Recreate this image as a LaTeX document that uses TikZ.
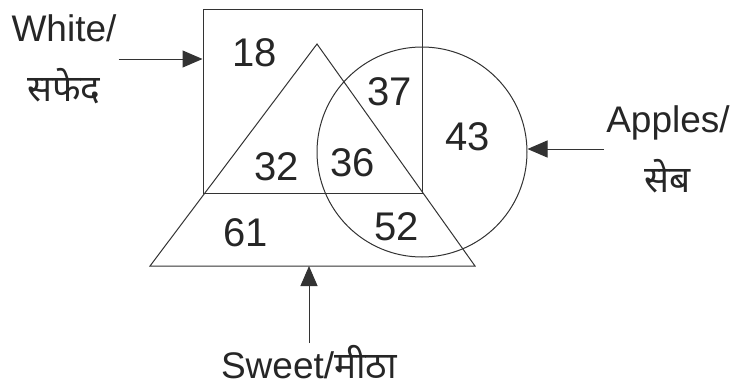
\documentclass[tikz,border=0pt]{standalone}
\usepackage{fontspec}
\setmainfont{Liberation Sans}
\newfontfamily\deva[Script=Devanagari]{Noto Sans}
\usetikzlibrary{arrows.meta, positioning, calc}

\begin{document}
\begin{tikzpicture}[
  x=1pt, y=-1pt,
  every node/.style={text=black!85},
  num/.style={font=\fontsize{40}{44}\selectfont},
  lbl/.style={align=center, inner sep=2pt, font=\fontsize{37}{60}\selectfont},
  outline/.style={draw=black!80, line width=1pt},
  arr/.style={draw=black!80, line width=1pt, -{Triangle[length=20pt, width=17pt]}}
]
  \useasboundingbox (0,0) rectangle (734,389);
  \node[outline, minimum width=219pt, minimum height=184pt, inner sep=0pt] (white) at (312.5,101) {};
  \node[outline, circle, minimum size=210pt, inner sep=0pt] (apples) at (422,152) {};
  \coordinate (apex) at (317,44);
  \coordinate (baseL) at (150,266);
  \coordinate (baseR) at (475,266);
  \draw[outline] (apex) -- (baseR) -- (baseL) -- cycle;

  \node[num] (n18) at (255,53) {18};
  \node[num] (n37) at (390,92) {37};
  \node[num] (n43) at (468,137) {43};
  \node[num] (n32) at (277,167) {32};
  \node[num] (n36) at (353,163) {36};
  \node[num] (n61) at (246,233) {61};
  \node[num] (n52) at (397,227) {52};

  \node[lbl] (whitelbl) at (64,59) {White/\\{\deva सफेद}};
  \node[lbl] (appleslbl) at (668,149) {Apples/\\{\deva सेब}};
  \node[lbl] (sweetlbl) at (309,362) {Sweet/{\deva मीठा}};

  \draw[arr] (whitelbl.east) -- (whitelbl.east -| white.west);
  \draw[arr] (appleslbl.west) -- (appleslbl.west -| apples.east);
  \draw[arr] (sweetlbl.north) -- (sweetlbl.north |- baseL);
\end{tikzpicture}
\end{document}
